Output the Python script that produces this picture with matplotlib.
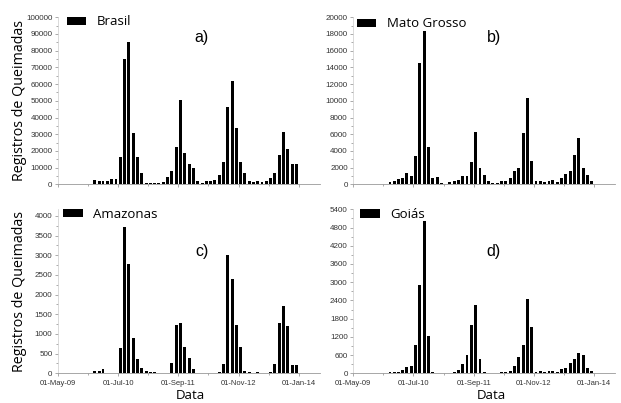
# Registros de queimadas: Brasil, Mato Grosso, Amazonas, Goiás (2010-2013, mensal)

import matplotlib
matplotlib.use('Agg')
import matplotlib.pyplot as plt
import matplotlib.dates as mdates
import numpy as np
import pandas as pd

plt.rcParams['font.family'] = ['Open Sans', 'DejaVu Sans']

# meses (jan/2010 a dez/2013)
meses = pd.date_range('2010-01-01', periods=48, freq='MS') + pd.Timedelta(days=15)

brasil = [2400, 1900, 1900, 2000, 3000, 3300, 16500, 75000, 85000, 31000, 16500, 6500,
          1000, 700, 700, 800, 1500, 4300, 8200, 22500, 50500, 18500, 12000, 9500,
          2200, 1000, 1800, 1800, 2800, 5600, 13200, 46000, 62000, 34000, 13200, 6600,
          1800, 1400, 1800, 1200, 1800, 3600, 7000, 17600, 31300, 21000, 12000, 12000]

mato_grosso = [280, 440, 600, 800, 1300, 1000, 3430, 14570, 18320, 4430, 800, 840,
               120, 80, 280, 360, 520, 960, 1040, 2640, 6270, 2000, 1120, 440,
               120, 150, 350, 450, 700, 1550, 1980, 6150, 10300, 2800, 350, 450,
               250, 350, 500, 300, 700, 1200, 1550, 3500, 5500, 1950, 1100, 400]

amazonas = [60, 70, 100, 0, 5, 5, 640, 3730, 2770, 890, 360, 130,
            55, 35, 40, 0, 0, 10, 260, 1240, 1280, 680, 390, 110,
            10, 10, 10, 5, 10, 30, 230, 3000, 2390, 1230, 670, 70,
            30, 10, 40, 10, 10, 40, 240, 1270, 1720, 1190, 200, 220]

goias = [30, 55, 55, 100, 220, 250, 930, 2900, 5030, 1220, 30, 20,
         20, 20, 10, 55, 120, 300, 590, 1600, 2250, 460, 30, 20,
         20, 10, 30, 55, 75, 230, 550, 920, 2440, 1510, 55, 90,
         30, 65, 65, 30, 140, 190, 340, 470, 680, 590, 175, 90]

estados = ['Brasil', 'Mato Grosso', 'Amazonas', 'Goiás']
letras = ['a)', 'b)', 'c)', 'd)']
series = [brasil, mato_grosso, amazonas, goias]
y_max = [100000, 20000, 4170, 5400]
y_passo = [10000, 2000, 500, 600]

x_ticks = pd.to_datetime(['2009-05-01', '2010-07-01', '2011-09-01', '2012-11-01', '2014-01-01'])
x_minor = pd.to_datetime(['2009-12-01', '2011-02-01', '2012-04-01', '2013-06-01'])
x_lim = pd.to_datetime(['2009-05-01', '2014-06-01'])

W, H = 621, 403
fig = plt.figure(figsize=(W / 100, H / 100), dpi=100)

# posições em pixels: (esquerda, topo, fundo)
caixas = [(58, 17.3, 184.3), (353.3, 17.3, 184.3), (58, 209.3, 373.3), (353.3, 209.3, 373.3)]
largura = 262
legenda_pos = [(0.033, 0.972), (0.013, 0.96), (0.019, 0.971), (0.026, 0.968)]
letra_pos = [(0.546, 0.882), (0.537, 0.882), (0.55, 0.74), (0.537, 0.74)]

for i in range(4):
    esq, topo, fundo = caixas[i]
    ax = fig.add_axes([esq / W, 1 - fundo / H, largura / W, (fundo - topo) / H])
    ax.bar(meses, series[i], width=21, color='black', label=estados[i])
    ax.set_xlim(x_lim[0], x_lim[1])
    ax.set_ylim(0, y_max[i])

    yt = np.arange(0, y_max[i] + 1, y_passo[i])
    ax.set_yticks(yt)
    ax.set_yticks(yt[:-1] + y_passo[i] / 2, minor=True)
    ax.set_xticks(x_ticks)
    ax.set_xticks(x_minor, minor=True)
    ax.xaxis.set_major_formatter(mdates.DateFormatter('%d-%b-%y'))

    for s in ['top', 'right']:
        ax.spines[s].set_visible(False)
    ax.spines['left'].set_color('#cccccc')
    ax.spines['left'].set_linewidth(0.5)
    ax.spines['bottom'].set_color('#999999')
    ax.spines['bottom'].set_linewidth(0.6)

    ax.tick_params(which='both', direction='out', color='#888888', width=0.5,
                   labelcolor='#333333')
    ax.tick_params(which='major', length=2.5)
    ax.tick_params(which='minor', length=1.5)
    ax.tick_params(axis='y', labelsize=5.8, pad=1.5)
    ax.tick_params(axis='x', labelsize=5.5, pad=2)
    for lb in ax.get_xticklabels() + ax.get_yticklabels():
        lb.set_family('Liberation Sans')

    if i < 2:
        ax.tick_params(axis='x', labelbottom=False)
    else:
        ax.set_xlabel('Data', fontsize=9.5)
        ax.xaxis.set_label_coords(0.505 if i == 2 else 0.528, -0.095)
    if i % 2 == 0:
        ax.set_ylabel('Registros de Queimadas', fontsize=10.3)
        ax.yaxis.set_label_coords(-0.12, 0.5)

    ax.legend(loc='center left', bbox_to_anchor=legenda_pos[i], frameon=False,
              fontsize=9.5, handlelength=1.5, handleheight=0.6, handletextpad=0.8,
              borderpad=0, borderaxespad=0)
    ax.text(letra_pos[i][0], letra_pos[i][1], letras[i], transform=ax.transAxes,
            fontsize=11.5, family='Liberation Sans', ha='center', va='center')

plt.savefig('out.png', dpi=100)
